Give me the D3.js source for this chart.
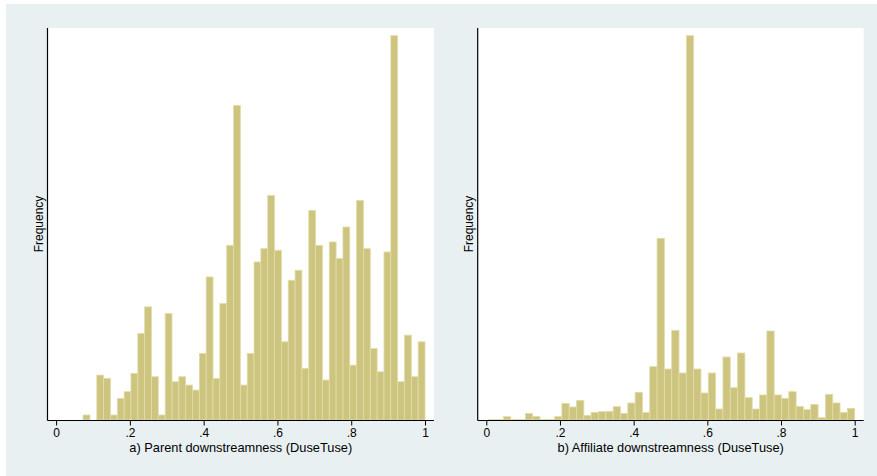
<!DOCTYPE html>
<html>
<head>
<meta charset="utf-8">
<script src="https://cdn.jsdelivr.net/npm/d3@7"></script>
<style>
  body { margin: 0; background: #fff; }
  text { font-family: "Liberation Sans", Arial, sans-serif; }
</style>
</head>
<body>
<svg id="chart" width="877" height="476"></svg>
<script>
// Histogram data: 50 equal-width bins from binMin to 1, heights in frequency units
const parentMin = 0.0732;
const parentFreq = [
  3, 0, 27, 25, 3, 13, 17, 28, 52, 68,
  26, 3, 64, 23, 26, 21, 18, 40, 86, 25,
  70, 105, 189, 21, 40, 95, 103, 135, 102, 47,
  84, 90, 31, 126, 105, 24, 107, 97, 116, 33,
  132, 103, 43, 29, 101, 231, 23, 51, 26, 47
];

const affiliateMin = 0.0065;
const affiliateFreq = [
  0.4, 0.4, 2.0, 0.4, 0.4, 4.0, 2.2, 0.4, 0.4, 2.0,
  10.0, 7.8, 11.8, 2.8, 4.6, 5.0, 5.2, 8.0, 4.0, 10.2,
  16.6, 4.6, 32, 109, 30.6, 53.8, 28.2, 230.6, 30.6, 16.2,
  28.2, 6.6, 37.8, 19.4, 40.2, 13.4, 6.6, 15, 53.4, 15,
  13, 17, 8.2, 6.2, 9.4, 1.4, 15.4, 10.2, 4.6, 7
];

const tickValues = [0, 0.2, 0.4, 0.6, 0.8, 1];
const tickLabels = ["0", ".2", ".4", ".6", ".8", "1"];

const svg = d3.select("#chart");

// outer graph region
svg.append("rect")
  .attr("x", 6).attr("y", 4)
  .attr("width", 871).attr("height", 472)
  .attr("fill", "#e9f0f2");

function drawPanel(left, right, binMin, freq, title) {
  const top = 28, bottom = 420;
  const bins = freq.map((f, i) => {
    const w = (1 - binMin) / freq.length;
    return { x0: binMin + i * w, x1: binMin + (i + 1) * w, f: f };
  });

  const x = d3.scaleLinear().domain([0, 1]).range([left + 8.6, right - 9]);
  const y = d3.scaleLinear()
    .domain([0, d3.max(freq) * 1.02])
    .range([bottom, top]);

  const g = svg.append("g");

  // plot region
  g.append("rect")
    .attr("x", left).attr("y", top)
    .attr("width", right - left).attr("height", bottom - top)
    .attr("fill", "#fff");

  g.selectAll(".bar")
    .data(bins)
    .enter()
    .append("rect")
    .attr("class", "bar")
    .attr("x", (d) => x(d.x0))
    .attr("width", (d) => x(d.x1) - x(d.x0))
    .attr("y", (d) => y(d.f))
    .attr("height", (d) => bottom - y(d.f))
    .attr("fill", "#cdc47f")
    .attr("stroke", "#e2dda9")
    .attr("stroke-width", 0.8);

  // Y-axis line (no ticks)
  g.append("line")
    .attr("x1", left).attr("x2", left)
    .attr("y1", top).attr("y2", bottom + 0.5)
    .attr("stroke", "#000").attr("stroke-width", 1.2);

  // X-Axis
  const ax = g.append("g")
    .attr("transform", `translate(0,${bottom + 0.5})`)
    .call(d3.axisBottom(x)
      .tickValues(tickValues)
      .tickFormat((d, i) => tickLabels[i])
      .tickSize(5)
      .tickSizeOuter(0)
      .tickPadding(3));
  ax.select(".domain").remove();
  ax.selectAll("line").attr("stroke", "#000");
  ax.selectAll("text")
    .style("font-size", "12px")
    .attr("fill", "#000");
  g.append("line")
    .attr("x1", left).attr("x2", right)
    .attr("y1", bottom + 0.5).attr("y2", bottom + 0.5)
    .attr("stroke", "#000").attr("stroke-width", 1);

  // X-axis label
  g.append("text")
    .attr("x", (left + right) / 2)
    .attr("y", 452)
    .attr("text-anchor", "middle")
    .style("font-size", "12.8px")
    .text(title);

  // Y-axis label
  g.append("text")
    .attr("transform", "rotate(-90)")
    .attr("x", -224)
    .attr("y", left - 5)
    .attr("text-anchor", "middle")
    .style("font-size", "12px")
    .text("Frequency");
}

drawPanel(47.5, 434, parentMin, parentFreq, "a) Parent downstreamness (DuseTuse)");
drawPanel(477.7, 863.7, affiliateMin, affiliateFreq, "b) Affiliate downstreamness (DuseTuse)");
</script>
</body>
</html>
